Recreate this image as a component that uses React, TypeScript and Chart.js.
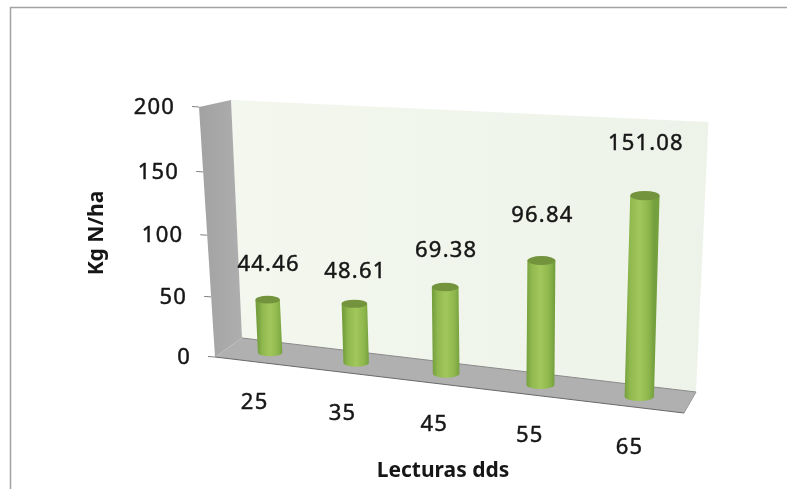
import React, { useEffect, useRef } from "react";
import { Chart, registerables } from "chart.js";

Chart.register(...registerables);

// Chart data
const categories = ["25", "35", "45", "55", "65"];
const nitrogen = [44.46, 48.61, 69.38, 96.84, 151.08];
const axisMax = 200;
const axisStep = 50;
const xTitle = "Lecturas dds";
const yTitle = "Kg N/ha";

// Box corners on the canvas, order: bottom-left, bottom-right, top-right, top-left
type Pt = [number, number];
const frontPlane: Pt[] = [[215, 357], [684, 413], [694, 137], [199, 107]];
const midPlane: Pt[] = [[228.5, 347.5], [690.5, 402.5], [701, 130], [215, 103.5]];
const backPlane: Pt[] = [[242, 338], [696, 392], [708.5, 122], [231, 100]];

// Height of each value label above its column top, in pixels
const labelLift = [35, 32, 36, 45, 52];

const FONT = '"Noto Sans", sans-serif';
const INK = "#161616";

// Projective map from the unit square onto a quad
function makeProjection(q: Pt[]) {
  const [p0, p1, p2, p3] = q;
  const dx1 = p1[0] - p2[0], dx2 = p3[0] - p2[0], sx = p0[0] - p1[0] + p2[0] - p3[0];
  const dy1 = p1[1] - p2[1], dy2 = p3[1] - p2[1], sy = p0[1] - p1[1] + p2[1] - p3[1];
  const den = dx1 * dy2 - dx2 * dy1;
  const g = (sx * dy2 - dx2 * sy) / den;
  const h = (dx1 * sy - sx * dy1) / den;
  const a = p1[0] - p0[0] + g * p1[0], b = p3[0] - p0[0] + h * p3[0], c = p0[0];
  const d = p1[1] - p0[1] + g * p1[1], e = p3[1] - p0[1] + h * p3[1], f = p0[1];
  return (u: number, v: number): Pt => {
    const w = g * u + h * v + 1;
    return [(a * u + b * v + c) / w, (d * u + e * v + f) / w];
  };
}

const onFront = makeProjection(frontPlane);
const onMid = makeProjection(midPlane);

function polygon(ctx: CanvasRenderingContext2D, pts: Pt[], fill: string | CanvasGradient) {
  ctx.beginPath();
  pts.forEach((p, i) => (i ? ctx.lineTo(p[0], p[1]) : ctx.moveTo(p[0], p[1])));
  ctx.closePath();
  ctx.fillStyle = fill;
  ctx.fill();
}

function segment(ctx: CanvasRenderingContext2D, a: Pt, b: Pt, color: string, width = 1) {
  ctx.beginPath();
  ctx.moveTo(a[0], a[1]);
  ctx.lineTo(b[0], b[1]);
  ctx.strokeStyle = color;
  ctx.lineWidth = width;
  ctx.stroke();
}

// Numbers are slightly thickened and spaced out
function numberText(ctx: CanvasRenderingContext2D, text: string, x: number, y: number) {
  ctx.font = `22px ${FONT}`;
  (ctx as any).letterSpacing = "1.2px";
  ctx.fillStyle = INK;
  ctx.strokeStyle = INK;
  ctx.lineWidth = 0.45;
  ctx.strokeText(text, x, y);
  ctx.fillText(text, x, y);
  (ctx as any).letterSpacing = "0px";
}

const boxPlugin = {
  id: "perspectiveBox",
  beforeDatasetsDraw(chart: any) {
    const ctx: CanvasRenderingContext2D = chart.ctx;
    const area = chart.chartArea;
    const yScale = chart.scales.y;
    const xScale = chart.scales.x;
    ctx.save();

    // Outer frame: top and left rules only
    segment(ctx, [10, 7.5], [787, 7.5], "#a2a2a2", 1.5);
    segment(ctx, [10.5, 7], [10.5, 489], "#a2a2a2", 1.5);

    // Back wall
    const backFill = ctx.createLinearGradient(backPlane[3][0], 0, backPlane[2][0], 0);
    backFill.addColorStop(0, "#f3f7ee");
    backFill.addColorStop(1, "#eef3ea");
    polygon(ctx, [backPlane[0], backPlane[1], backPlane[2], backPlane[3]], backFill);

    // Side wall
    const sideFill = ctx.createLinearGradient(frontPlane[3][0], 0, backPlane[0][0], 0);
    sideFill.addColorStop(0, "#a2a2a2");
    sideFill.addColorStop(1, "#aeaeae");
    polygon(ctx, [frontPlane[0], backPlane[0], backPlane[3], frontPlane[3]], sideFill);

    // Floor
    polygon(ctx, [frontPlane[0], frontPlane[1], backPlane[1], backPlane[0]], "#b0b0b0");
    segment(ctx, backPlane[0], backPlane[1], "#8a8a8a");
    segment(ctx, frontPlane[0], frontPlane[1], "#6a6a6a", 1.2);
    segment(ctx, frontPlane[1], backPlane[1], "#9a9a9a");

    // Value axis: ticks along the front edge of the side wall
    ctx.textAlign = "right";
    ctx.textBaseline = "middle";
    yScale.ticks.forEach((t: any) => {
      const v = (area.bottom - yScale.getPixelForValue(t.value)) / area.height;
      const p = onFront(0, v);
      segment(ctx, p, [p[0] - 7, p[1] - 0.5], "#808080");
      numberText(ctx, String(t.value), p[0] - 24, p[1] + 0.5);
    });

    // Category axis: labels hang below the front edge of the floor
    ctx.textAlign = "center";
    categories.forEach((_, i) => {
      const u = (xScale.getPixelForValue(i) - area.left) / area.width;
      const p = onFront(u, 0);
      numberText(ctx, xScale.getLabelForValue(i), p[0] - 3, p[1] + 41);
    });

    // Axis titles
    ctx.font = `bold 21px ${FONT}`;
    ctx.fillStyle = INK;
    ctx.fillText(xTitle, 443, 471);
    ctx.save();
    ctx.translate(97, 233);
    ctx.rotate(-Math.PI / 2);
    ctx.fillText(yTitle, 0, 0);
    ctx.restore();
    ctx.restore();
  },
  afterDatasetsDraw(chart: any) {
    const ctx: CanvasRenderingContext2D = chart.ctx;
    const area = chart.chartArea;
    const bars = chart.getDatasetMeta(0).data;
    ctx.save();

    bars.forEach((bar: any, i: number) => {
      const u = (bar.x - area.left) / area.width;
      const du = bar.width / 2 / area.width;
      const vTop = (area.bottom - bar.y) / area.height;
      const vBase = (area.bottom - bar.base) / area.height;

      const top = onMid(u, vTop);
      const base = onMid(u, vBase);
      const rx = (onMid(u + du, vBase)[0] - onMid(u - du, vBase)[0]) / 2;
      const ry = rx * 0.32;

      // Column body, shaded across its width
      const shade = ctx.createLinearGradient(base[0] - rx, 0, base[0] + rx, 0);
      shade.addColorStop(0, "#76a03e");
      shade.addColorStop(0.18, "#8fb84e");
      shade.addColorStop(0.5, "#a2c85c");
      shade.addColorStop(0.82, "#8db64c");
      shade.addColorStop(1, "#75a03e");
      ctx.beginPath();
      ctx.moveTo(top[0] - rx, top[1]);
      ctx.lineTo(base[0] - rx, base[1]);
      ctx.ellipse(base[0], base[1], rx, ry, 0, Math.PI, 0, true);
      ctx.lineTo(top[0] + rx, top[1]);
      ctx.closePath();
      ctx.fillStyle = shade;
      ctx.fill();

      // Column cap
      ctx.beginPath();
      ctx.ellipse(top[0], top[1], rx, ry, 0, 0, Math.PI * 2);
      ctx.fillStyle = "#74933d";
      ctx.fill();

      // Value label
      ctx.textAlign = "center";
      ctx.textBaseline = "middle";
      numberText(ctx, nitrogen[i].toFixed(2), top[0] + 1, top[1] - labelLift[i]);
    });
    ctx.restore();
  },
};

export default function App() {
  const canvasRef = useRef<HTMLCanvasElement>(null);

  useEffect(() => {
    const chart = new Chart(canvasRef.current!, {
      type: "bar",
      data: {
        labels: categories,
        datasets: [
          {
            label: yTitle,
            data: nitrogen,
            backgroundColor: "rgba(0,0,0,0)",
            categoryPercentage: 1,
            barPercentage: 0.29,
          },
        ],
      },
      options: {
        responsive: false,
        animation: false,
        layout: { padding: { left: 100, right: 100, top: 100, bottom: 100 } },
        plugins: { legend: { display: false }, tooltip: { enabled: false } },
        scales: {
          x: { display: false },
          y: { display: false, min: 0, max: axisMax, ticks: { stepSize: axisStep } },
        },
      },
      plugins: [boxPlugin],
    });
    return () => chart.destroy();
  }, []);

  return (
    <div style={{ position: "absolute", left: 0, top: 0, width: 787, height: 489, background: "#ffffff" }}>
      <canvas ref={canvasRef} width={787} height={489} style={{ display: "block" }} />
    </div>
  );
}
